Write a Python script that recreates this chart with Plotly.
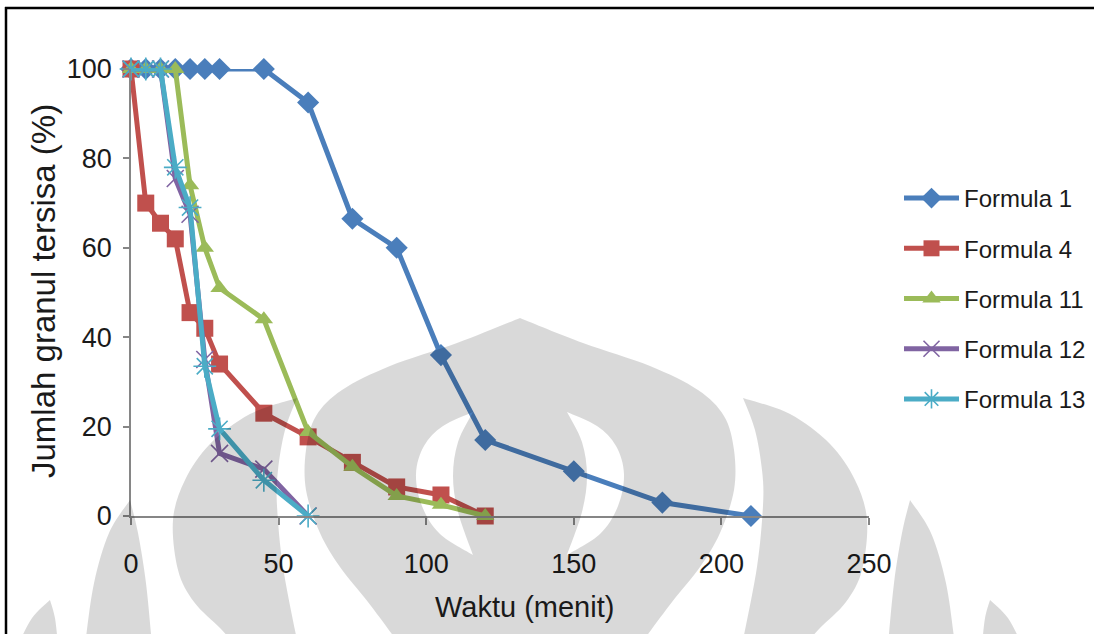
import plotly.graph_objects as go

# ---- data: remaining granule amount (%) versus time (minutes) ----
time_f1 = [0, 5, 10, 15, 20, 25, 30, 45, 60, 75, 90, 105, 120, 150, 180, 210]
formula_1 = [100, 100, 100, 100, 100, 100, 100, 100, 92.5, 66.5, 60, 36, 17, 10, 3, 0]

time_f4 = [0, 5, 10, 15, 20, 25, 30, 45, 60, 75, 90, 105, 120]
formula_4 = [100, 70, 65.5, 62, 45.5, 42, 34, 23, 17.7, 12, 6.5, 4.7, 0]

time_f11 = [0, 5, 10, 15, 20, 25, 30, 45, 60, 75, 90, 105, 120]
formula_11 = [100, 100, 100, 100, 74, 60, 51, 44, 18.8, 11, 4.5, 2.5, 0]

time_f12 = [0, 5, 10, 15, 20, 25, 30, 45, 60]
formula_12 = [100, 100, 100, 75.5, 67.5, 35, 14, 10.5, 0]

time_f13 = [0, 5, 10, 15, 20, 25, 30, 45, 60]
formula_13 = [100, 100, 100, 78, 69, 33.5, 19.5, 8, 0]

series_names = ["Formula 1", "Formula 4", "Formula 11", "Formula 12", "Formula 13"]
x_ticks = [0, 50, 100, 150, 200, 250]
y_ticks = [0, 20, 40, 60, 80, 100]

# ---- page geometry (pixels) ----
W, H = 1094, 634
PL, PR, PT, PB = 131, 869, 69, 516          # plot area edges


def px(x):
    return (x - PL) / (PR - PL)


def py(y):
    return (PB - y) / (PB - PT)


FONT = "Liberation Sans, Arial, sans-serif"
INK = "#1a1a1a"

styles = [
    dict(color="#4a7ebb", symbol="diamond", size=17, lw=0),
    dict(color="#c0504d", symbol="square", size=17, lw=0),
    dict(color="#9bbb59", symbol="triangle-up", size=16, lw=0),
    dict(color="#8064a2", symbol="x-thin", size=17, lw=1.6),
    dict(color="#4bacc6", symbol="asterisk", size=19, lw=1.6),
]
xs = [time_f1, time_f4, time_f11, time_f12, time_f13]
ys = [formula_1, formula_4, formula_11, formula_12, formula_13]

fig = go.Figure()
for i, (name, x, y, st) in enumerate(zip(series_names, xs, ys, styles)):
    fig.add_trace(go.Scatter(
        x=x, y=y, name=name, mode="lines+markers",
        line=dict(color=st["color"], width=5),
        marker=dict(symbol=st["symbol"], size=st["size"], color=st["color"],
                    line=dict(color=st["color"], width=st["lw"])),
        cliponaxis=False, legendgroup=f"g{i}",
    ))


# ---- faint emblem watermark drawn over the chart ----
def smooth(points):
    """Catmull-Rom spline through points -> cubic bezier commands (no leading M)."""
    pts = [points[0]] + list(points) + [points[-1]]
    out = []
    for i in range(1, len(pts) - 2):
        p0, p1, p2, p3 = pts[i - 1], pts[i], pts[i + 1], pts[i + 2]
        c1 = (p1[0] + (p2[0] - p0[0]) / 6, p1[1] + (p2[1] - p0[1]) / 6)
        c2 = (p2[0] - (p3[0] - p1[0]) / 6, p2[1] - (p3[1] - p1[1]) / 6)
        out.append("C{:.4f},{:.4f} {:.4f},{:.4f} {:.4f},{:.4f}".format(
            px(c1[0]), py(c1[1]), px(c2[0]), py(c2[1]), px(p2[0]), py(p2[1])))
    return " ".join(out)


def outline(*strokes):
    start = strokes[0][0]
    d = "M{:.4f},{:.4f} ".format(px(start[0]), py(start[1]))
    for s in strokes:
        if len(s) == 2:
            d += "L{:.4f},{:.4f} ".format(px(s[1][0]), py(s[1][1]))
        else:
            d += smooth(s) + " "
    return d + "Z"


CX = 520


def mirror(points):
    return [(2 * CX - x, y) for x, y in points]


# central dome, right half from the apex downward
dome_r = [(520, 318), (583, 343), (650, 366), (698, 390), (724, 416), (734, 450),
          (734, 490), (720, 533), (700, 567), (672, 602), (640, 645)]
dome_l = mirror(dome_r)
# inner crescents (holes)
cres_r_out = [(567, 412), (597, 426), (616, 446), (624, 474), (618, 506), (600, 534), (567, 555)]
cres_r_in = [(567, 555), (582, 512), (587, 476), (582, 442), (567, 412)]
cres_l_out = mirror(cres_r_out)
cres_l_in = mirror(cres_r_in)

dome_path = (outline(dome_l, [dome_l[-1], dome_r[-1]], dome_r[::-1])
             + " " + outline(cres_r_out, cres_r_in)
             + " " + outline(cres_l_out, cres_l_in))

# side wings
wing_r_in = [(743, 398), (755, 430), (762, 470), (763, 505), (757, 567), (742, 645)]
wing_r_out = [(743, 398), (790, 414), (830, 444), (855, 480), (867, 520), (862, 570),
              (846, 602), (820, 628), (805, 645)]
wing_r = outline(wing_r_in, [wing_r_in[-1], wing_r_out[-1]], wing_r_out[::-1])
wing_l = outline(mirror(wing_r_in), [mirror(wing_r_in)[-1], mirror(wing_r_out)[-1]],
                 mirror(wing_r_out)[::-1])

# outer petals
pet1_l = [(910, 500), (902, 533), (894, 583), (888, 645)]
pet1_r = [(910, 500), (931, 533), (946, 583), (955, 645)]
pet2_l = [(990, 600), (985, 618), (982, 645)]
pet2_r = [(990, 600), (1008, 618), (1022, 645)]
petals = []
for a, b in [(pet1_l, pet1_r), (pet2_l, pet2_r)]:
    petals.append(outline(a, [a[-1], b[-1]], b[::-1]))
    ma, mb = mirror(a), mirror(b)
    petals.append(outline(ma, [ma[-1], mb[-1]], mb[::-1]))

shapes = []
for d in [dome_path, wing_r, wing_l] + petals:
    shapes.append(dict(type="path", path=d, xref="paper", yref="paper",
                       fillcolor="rgba(0,0,0,0.15)", line=dict(width=0),
                       fillrule="evenodd", layer="above"))

# top and left edges of the chart frame
frame = dict(type="line", xref="paper", yref="paper",
             line=dict(color="black", width=2.5), layer="above")
shapes.append(dict(frame, x0=px(5), y0=py(8), x1=px(1100), y1=py(8)))
shapes.append(dict(frame, x0=px(6), y0=py(7), x1=px(6), y1=py(640)))

axis_common = dict(
    showline=True, linecolor="#868686", linewidth=1.5,
    ticks="outside", tickcolor="#868686", tickwidth=1.5,
    showgrid=False, zeroline=False,
    tickfont=dict(family=FONT, size=27, color=INK),
)

fig.update_layout(
    width=W, height=H,
    margin=dict(l=PL, r=W - PR, t=PT, b=H - PB, autoexpand=False),
    paper_bgcolor="white", plot_bgcolor="white",
    xaxis=dict(range=[0, 250], tickvals=x_ticks, ticklen=7, ticklabelstandoff=16,
               **axis_common),
    yaxis=dict(range=[0, 100], tickvals=y_ticks, ticklen=6, ticklabelstandoff=6,
               **axis_common),
    showlegend=True,
    legend=dict(x=px(899), xanchor="left", y=py(176), yanchor="top",
                font=dict(family=FONT, size=24, color=INK),
                itemwidth=55, tracegroupgap=16, bgcolor="rgba(0,0,0,0)"),
    annotations=[
        dict(text="Waktu (menit)", xref="paper", yref="paper", x=px(524), y=py(607),
             showarrow=False, xanchor="center", yanchor="middle",
             font=dict(family=FONT, size=29, color=INK)),
        dict(text="Jumlah granul tersisa (%)", xref="paper", yref="paper",
             x=px(43), y=py(291), textangle=-90, showarrow=False,
             xanchor="center", yanchor="middle",
             font=dict(family=FONT, size=33, color=INK)),
    ],
    shapes=shapes,
)

fig.write_html("out.html")
